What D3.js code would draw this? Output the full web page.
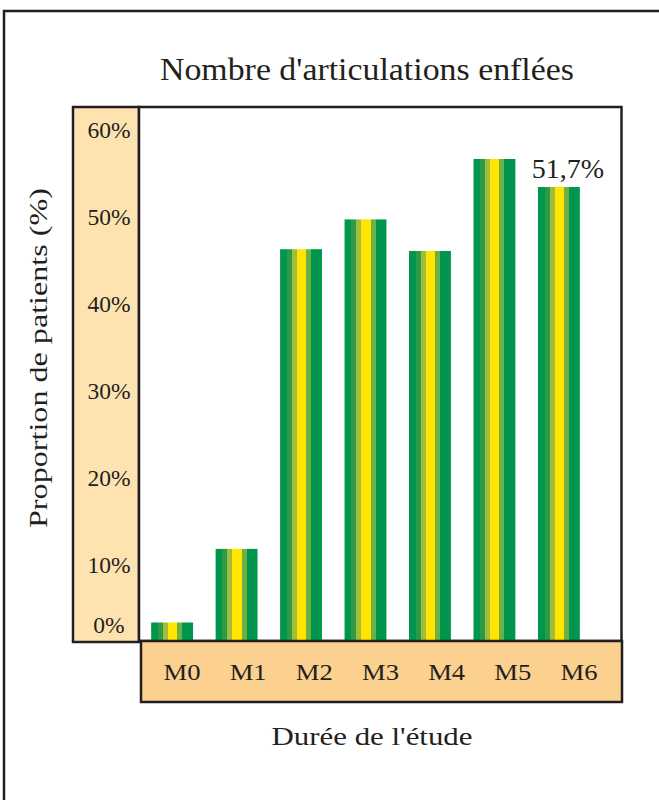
<!DOCTYPE html>
<html><head><meta charset="utf-8">
<script src="https://cdn.jsdelivr.net/npm/d3@7"></script>
<style>html,body{margin:0;padding:0;background:#fff;}svg{display:block;}
text{font-family:"Liberation Serif","Times New Roman",Times,serif;}</style>
</head><body>
<script>
const categories = ["M0","M1","M2","M3","M4","M5","M6"];
const values = [2.0, 10.4, 44.6, 48.0, 44.4, 54.9, 51.7];
const tickValues = [0,10,20,30,40,50,60];
const tickLabels = ["0%","10%","20%","30%","40%","50%","60%"];
const annotation = "51,7%";
const title = "Nombre d'articulations enflées";
const yTitle = "Proportion de patients (%)";
const xTitle = "Durée de l'étude";

const W = 659, H = 800;
const ink = "#231f20";
const svg = d3.select("body").append("svg").attr("width", W).attr("height", H);

// gradient stripes
const defs = svg.append("defs");
const g = defs.append("linearGradient").attr("id","stripe").attr("x1","0").attr("x2","1").attr("y1","0").attr("y2","0");
const stripes = [[0,.16,"#00964b"],[.16,.28,"#2f9a46"],[.28,.40,"#a2bd3b"],[.40,.62,"#ffe500"],[.62,.74,"#6cb046"],[.74,1,"#00964e"]];
stripes.forEach(([a,b,c])=>{
  g.append("stop").attr("offset",a).attr("stop-color",c);
  g.append("stop").attr("offset",b).attr("stop-color",c);
});

// outer frame
svg.append("rect").attr("x",4).attr("y",11).attr("width",700).attr("height",850)
  .attr("fill","none").attr("stroke",ink).attr("stroke-width",2.5);

// title
svg.append("text").attr("x",367).attr("y",80).attr("text-anchor","middle")
  .attr("font-size",31).attr("fill",ink)
  .attr("textLength",414).attr("lengthAdjust","spacingAndGlyphs").text(title);

const x = d3.scaleBand().domain(categories).range([146,585]).paddingInner(0.35).paddingOuter(0.08);
const y = d3.scaleLinear().domain([0,51.7]).range([640,187]);
const yLab = d3.scaleLinear().domain([0,10,60]).range([633,573,138]);
const xLab = d3.scalePoint().domain(categories).range([182,579]);

// y panel
svg.append("rect").attr("x",73).attr("y",107).attr("width",66).attr("height",535)
  .attr("fill","#fee3b1").attr("stroke",ink).attr("stroke-width",2.5);
// plot box
svg.append("rect").attr("x",139).attr("y",107).attr("width",482.5).attr("height",534)
  .attr("fill","#fff").attr("stroke",ink).attr("stroke-width",2.5);

// bars
svg.append("g").selectAll("rect").data(values).join("rect")
  .attr("x",(d,i)=>x(categories[i])).attr("width",x.bandwidth())
  .attr("y",d=>y(d)).attr("height",d=>y(0)-y(d)).attr("fill","url(#stripe)");

// x panel
svg.append("rect").attr("x",141).attr("y",641).attr("width",481).attr("height",61)
  .attr("fill","#fcd08f").attr("stroke",ink).attr("stroke-width",2.5);

// y tick labels
svg.append("g").selectAll("text").data(tickValues).join("text")
  .attr("x",109).attr("y",d=>yLab(d)).attr("text-anchor","middle")
  .attr("font-size",23.5).attr("fill",ink)
  .text((d,i)=>tickLabels[i]);

// x labels
svg.append("g").selectAll("text").data(categories).join("text")
  .attr("x",d=>xLab(d)).attr("y",680).attr("text-anchor","middle")
  .attr("font-size",23).attr("fill",ink)
  .attr("textLength",37).attr("lengthAdjust","spacingAndGlyphs").text(d=>d);

// annotation
svg.append("text").attr("x",568).attr("y",178).attr("text-anchor","middle")
  .attr("font-size",28).attr("fill",ink).text(annotation);

// axis titles
svg.append("text").attr("transform","translate(47,358) rotate(-90)").attr("text-anchor","middle")
  .attr("font-size",26).attr("fill",ink)
  .attr("textLength",340).attr("lengthAdjust","spacingAndGlyphs").text(yTitle);
svg.append("text").attr("x",372).attr("y",745).attr("text-anchor","middle")
  .attr("font-size",26).attr("fill",ink)
  .attr("textLength",201).attr("lengthAdjust","spacingAndGlyphs").text(xTitle);
</script>
</body></html>
